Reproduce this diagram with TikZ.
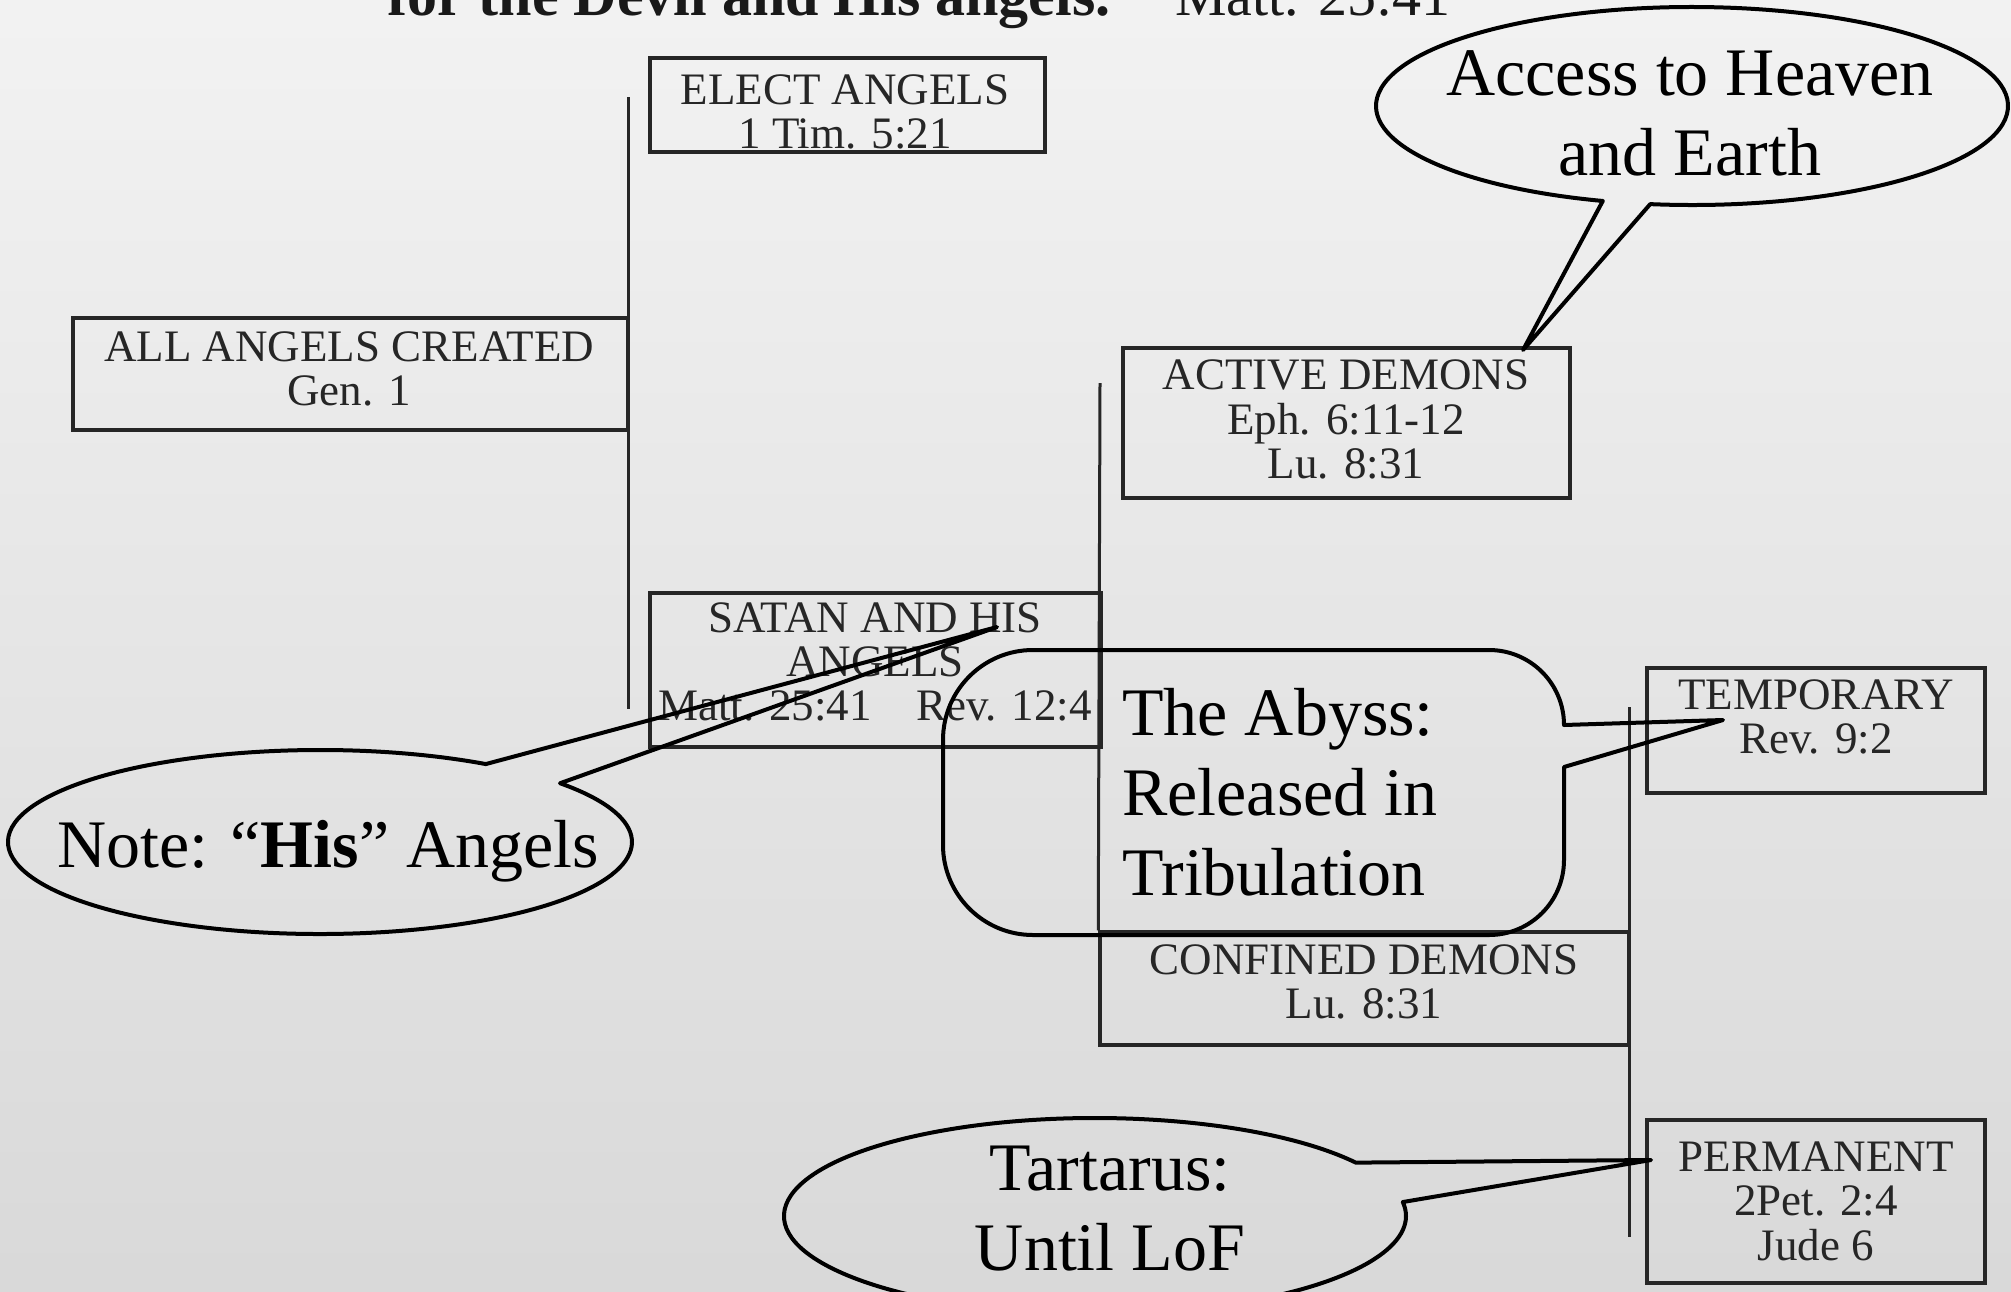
\documentclass[tikz,border=0pt]{standalone}
\usepackage{fontspec}
\newfontfamily\boxfont{Liberation Serif}
\begin{document}
\begin{tikzpicture}[x=1pt,y=1pt,
  box/.style={draw=black!85, line width=3.5pt, inner sep=0pt},
  boxtxt/.style={font=\boxfont\fontsize{45}{44}\selectfont, text=black!85, align=center, inner sep=0pt},
  tree/.style={draw=black!85, line width=3pt},
  callout/.style={draw=black, line width=4pt, line join=round},
  calltxt/.style={font=\boxfont\fontsize{68}{80}\selectfont, text=black, inner sep=0pt},
  titletxt/.style={anchor=base west, inner sep=0pt, text=black!90}
]
\useasboundingbox (0,0) rectangle (2011,-1291);
\clip (0,0) rectangle (2011,-1291);
\shade[top color=black!5, bottom color=black!15] (0,0) rectangle (2011,-1291);

% title (cut off at the top, as in the reference)
\node[titletxt, font=\boxfont\bfseries\fontsize{60}{60}\selectfont] (title) at (387,-15) {for the Devil and His angels.};
\node[titletxt, font=\boxfont\fontsize{58}{58}\selectfont] (titleref) at (1175,-15) {Matt. 25:41};

% boxes
\node[box, minimum width=395pt, minimum height=94pt]  (elect)    at (847.5,-105) {};
\node[box, minimum width=555pt, minimum height=112pt] (all)      at (350.5,-374) {};
\node[box, minimum width=451pt, minimum height=154pt] (satan)    at (875.5,-670) {};
\node[box, minimum width=447pt, minimum height=150pt] (active)   at (1346.5,-423) {};
\node[box, minimum width=338pt, minimum height=125pt] (temp)     at (1816,-730.5) {};
\node[box, minimum width=529pt, minimum height=113pt] (confined) at (1364.5,-988.5) {};
\node[box, minimum width=338pt, minimum height=163pt] (perm)     at (1816,-1201.5) {};

% box texts
\node[boxtxt] (electT)    at (845,-118)   {\strut ELECT ANGELS\\\strut 1 Tim. 5:21};
\node[boxtxt] (allT)      at (349,-375)   {\strut ALL ANGELS CREATED\\\strut Gen. 1};
\node[boxtxt] (satanT)    at (875,-668)   {\strut SATAN AND HIS\\\strut ANGELS\\\strut Matt. 25:41\hspace{33pt} Rev. 12:4};
\node[boxtxt] (activeT)   at (1346,-425)  {\strut ACTIVE DEMONS\\\strut Eph. 6:11-12\\\strut Lu. 8:31};
\node[boxtxt] (tempT)     at (1816,-723)  {\strut TEMPORARY\\\strut Rev. 9:2};
\node[boxtxt] (confinedT) at (1364,-988)  {\strut CONFINED DEMONS\\\strut Lu. 8:31};
\node[boxtxt] (permT)     at (1816,-1207) {\strut PERMANENT\\\strut 2Pet. 2:4\\\strut Jude 6};

% tree lines
\coordinate (l1a) at (628,-97);
\coordinate (l1b) at (628,-709);
\coordinate (l2a) at (1100,-383);
\coordinate (l3a) at (1629,-707);
\coordinate (l3b) at (1629,-1237);
\draw[tree] (l1a) -- (l1b);
\draw[tree] (l2a) -- (confined.north west);
\draw[tree] (l3a) -- (l3b);

% callout: Access to Heaven and Earth
\coordinate (accC) at (1692,-106);
\coordinate (accTip) at (1523,-350);
\draw[callout] ([shift={(262.4:316pt and 99pt)}]accC)
  arc[start angle=262.4, end angle=613.6, x radius=316pt, y radius=99pt]
  -- (accTip) -- cycle;
\node[calltxt, align=center] (accT) at (1690,-119) {\strut Access to Heaven\\\strut and Earth};

% callout: Note "His" Angels
\coordinate (noteC) at (320,-842);
\coordinate (noteTip) at (997,-627);
\draw[callout] ([shift={(57.9:312pt and 92pt)}]noteC)
  arc[start angle=57.9, end angle=399.7, x radius=312pt, y radius=92pt]
  -- (noteTip) -- cycle;
\node[calltxt, anchor=base] (noteT) at (328,-867) {Note: “\textbf{His}” Angels};

% callout: The Abyss
\coordinate (abyTip) at (1723,-720);
\draw[callout] (abyTip) -- (1564,-767) -- (1564,-860)
  arc[start angle=0, end angle=-90, radius=75pt] -- (1033,-935)
  arc[start angle=270, end angle=180, radius=90pt] -- (943,-740)
  arc[start angle=180, end angle=90, radius=90pt] -- (1489,-650)
  arc[start angle=90, end angle=0, radius=75pt] -- cycle;
\node[calltxt, align=left, anchor=west] (abyT) at (1122,-799) {\strut The Abyss:\\\strut Released in\\\strut Tribulation};

% callout: Tartarus
\coordinate (tartC) at (1095,-1216);
\coordinate (tartTip) at (1651,-1160);
\draw[callout] ([shift={(33:311pt and 98pt)}]tartC)
  arc[start angle=33, end angle=368.2, x radius=311pt, y radius=98pt]
  -- (tartTip) -- cycle;
\node[calltxt, align=center] (tartT) at (1110,-1214) {\strut Tartarus:\\\strut Until LoF};
\end{tikzpicture}
\end{document}
